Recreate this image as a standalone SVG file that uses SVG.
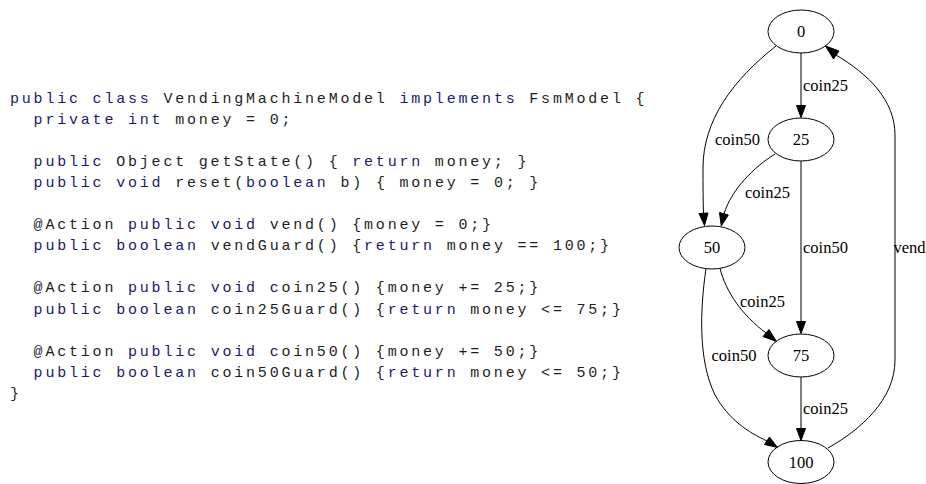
<svg xmlns="http://www.w3.org/2000/svg" width="926" height="484" viewBox="0 0 926 484">
<style>
.code{font-family:"Liberation Mono","DejaVu Sans Mono",monospace;font-size:15px;letter-spacing:2.8px;fill:#1e1e1e}
.kw{fill:#1a1a6e}
.node ellipse{fill:none;stroke:#000;stroke-width:1}
.node text,.lbl{font-family:"Liberation Serif","Times New Roman",serif;font-size:16.5px;fill:#000}
.node text{text-anchor:middle}
.edge path{fill:none;stroke:#000;stroke-width:1}
.edge polygon{fill:#000;stroke:#000;stroke-width:1}
</style>
<g id="code">
<text class="code" x="10" y="102.5" xml:space="preserve"><tspan class="kw">public class</tspan> VendingMachineModel <tspan class="kw">implements</tspan> FsmModel {</text>
<text class="code" x="33.6" y="123.6" xml:space="preserve"><tspan class="kw">private int</tspan> money = 0;</text>
<text class="code" x="33.6" y="165.8" xml:space="preserve"><tspan class="kw">public</tspan> Object getState() { <tspan class="kw">return</tspan> money; }</text>
<text class="code" x="33.6" y="186.9" xml:space="preserve"><tspan class="kw">public void</tspan> reset(<tspan class="kw">boolean</tspan> b) { money = 0; }</text>
<text class="code" x="33.6" y="229.1" xml:space="preserve">@Action <tspan class="kw">public void</tspan> vend() {money = 0;}</text>
<text class="code" x="33.6" y="250.2" xml:space="preserve"><tspan class="kw">public boolean</tspan> vendGuard() {<tspan class="kw">return</tspan> money == 100;}</text>
<text class="code" x="33.6" y="292.4" xml:space="preserve">@Action <tspan class="kw">public void</tspan> coin25() {money += 25;}</text>
<text class="code" x="33.6" y="313.5" xml:space="preserve"><tspan class="kw">public boolean</tspan> coin25Guard() {<tspan class="kw">return</tspan> money &lt;= 75;}</text>
<text class="code" x="33.6" y="355.7" xml:space="preserve">@Action <tspan class="kw">public void</tspan> coin50() {money += 50;}</text>
<text class="code" x="33.6" y="376.8" xml:space="preserve"><tspan class="kw">public boolean</tspan> coin50Guard() {<tspan class="kw">return</tspan> money &lt;= 50;}</text>
<text class="code" x="10" y="397.9" xml:space="preserve">}</text>
</g>
<g id="edges">
<g class="edge" id="e0_25"><path d="M801,53 L801,105.5"/><polygon points="796.5,105.5 805.5,105.5 801,117.5"/><text class="lbl" x="803" y="91">coin25</text></g>
<g class="edge" id="e0_50"><path d="M776,46 C733,80 703,120 703,168 C703,185 703,200 703.5,213.5"/><polygon points="699,213.5 708,213 704.5,225.5"/><text class="lbl" x="715" y="145">coin50</text></g>
<g class="edge" id="e25_50"><path d="M775,154 C754,167 731,190 724,214"/><polygon points="719.5,212.5 728.3,215 721.3,226"/><text class="lbl" x="745" y="198">coin25</text></g>
<g class="edge" id="e25_75"><path d="M801,161 L801,321.5"/><polygon points="796.5,321.5 805.5,321.5 801,333.5"/><text class="lbl" x="803" y="252.5">coin50</text></g>
<g class="edge" id="e50_75"><path d="M720,268.5 C726,292 742,315 766,333"/><polygon points="763,336.5 769,329.5 776.5,341.5"/><text class="lbl" x="740" y="306.5">coin25</text></g>
<g class="edge" id="e50_100"><path d="M706,268.5 C700,310 698,360 715,395 C729,420 748,432 767,441"/><polygon points="764.5,444.5 769.5,437 777.5,447.5"/><text class="lbl" x="711.5" y="361">coin50</text></g>
<g class="edge" id="e75_100"><path d="M801,377 L801,428.5"/><polygon points="796.5,428.5 805.5,428.5 801,440.5"/><text class="lbl" x="803" y="414">coin25</text></g>
<g class="edge" id="e100_0"><path d="M828,448 C860,430 895,400 895,360 L895,135 C895,100 868,74 836,55"/><polygon points="833.5,59 839,51 825.5,46"/><text class="lbl" x="893.5" y="252.5">vend</text></g>
</g>
<g class="node" id="n0"><ellipse cx="801" cy="31.5" rx="33" ry="21.5"/><text x="801" y="37.3">0</text></g>
<g class="node" id="n25"><ellipse cx="801" cy="139.5" rx="33" ry="21.5"/><text x="801" y="145.3">25</text></g>
<g class="node" id="n50"><ellipse cx="712" cy="247.5" rx="33" ry="21.5"/><text x="712" y="253.3">50</text></g>
<g class="node" id="n75"><ellipse cx="801" cy="355.5" rx="33" ry="21.5"/><text x="801" y="361.3">75</text></g>
<g class="node" id="n100"><ellipse cx="801" cy="462" rx="33" ry="21.5"/><text x="801" y="467.8">100</text></g>
</svg>
